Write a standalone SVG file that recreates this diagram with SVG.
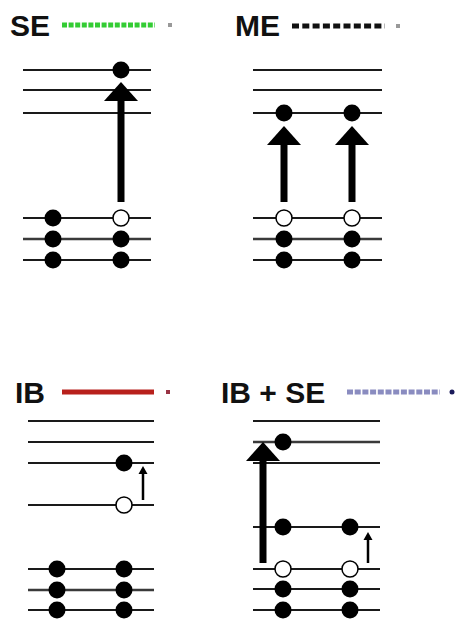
<svg xmlns="http://www.w3.org/2000/svg" width="460" height="623" viewBox="0 0 460 623">
<defs>
<style>
.t{font-family:"Liberation Sans",Arial,sans-serif;font-weight:bold;font-size:30px;fill:#111}
.lv{stroke:#1a1a1a;stroke-width:2;fill:none}
.lg{stroke:#3a3a3a;stroke-width:2.3;fill:none}
.f{fill:#000}
.o{fill:#fff;stroke:#000;stroke-width:1.5}
.big{stroke:#000;stroke-width:7;fill:none}
.sm{stroke:#000;stroke-width:2.5;fill:none}
.ah{fill:#000}
</style>
</defs>
<rect width="460" height="623" fill="#fff"/>

<g id="SE">
<text class="t" x="10" y="36">SE</text>
<line x1="62" y1="25" x2="155" y2="25" stroke="#3c3" stroke-width="5" stroke-dasharray="5 1.6"/>
<rect x="168" y="23" width="4" height="4" fill="#999"/>
<line class="lv" x1="23" y1="70" x2="151" y2="70"/>
<line class="lv" x1="23" y1="90" x2="151" y2="90"/>
<line class="lv" x1="23" y1="113" x2="151" y2="113"/>
<line class="lv" x1="23" y1="218" x2="151" y2="218"/>
<line class="lg" x1="23" y1="239" x2="151" y2="239"/>
<line class="lv" x1="23" y1="260" x2="151" y2="260"/>
<circle class="f" cx="121" cy="70" r="8.5"/>
<circle class="o" cx="121" cy="218" r="8"/>
<circle class="f" cx="53" cy="218" r="8.5"/>
<circle class="f" cx="53" cy="239" r="8.5"/>
<circle class="f" cx="53" cy="260" r="8.5"/>
<circle class="f" cx="121" cy="239" r="8.5"/>
<circle class="f" cx="121" cy="260" r="8.5"/>
</g>

<g id="ME">
<text class="t" x="235" y="36">ME</text>
<line x1="292" y1="26" x2="385" y2="26" stroke="#111" stroke-width="5" stroke-dasharray="7 3.3"/>
<rect x="396" y="24" width="4" height="4" fill="#999"/>
<line class="lv" x1="253" y1="70" x2="382" y2="70"/>
<line class="lv" x1="253" y1="90" x2="382" y2="90"/>
<line class="lv" x1="253" y1="113" x2="382" y2="113"/>
<line class="lv" x1="253" y1="218" x2="382" y2="218"/>
<line class="lg" x1="253" y1="239" x2="382" y2="239"/>
<line class="lv" x1="253" y1="260" x2="382" y2="260"/>
<circle class="f" cx="284" cy="113" r="8.5"/>
<circle class="f" cx="352" cy="113" r="8.5"/>
<circle class="o" cx="284" cy="218" r="8"/>
<circle class="o" cx="352" cy="218" r="8"/>
<circle class="f" cx="284" cy="239" r="8.5"/>
<circle class="f" cx="352" cy="239" r="8.5"/>
<circle class="f" cx="284" cy="260" r="8.5"/>
<circle class="f" cx="352" cy="260" r="8.5"/>
</g>

<g id="IB">
<text class="t" x="15" y="403">IB</text>
<line x1="62" y1="392" x2="154" y2="392" stroke="#b8201c" stroke-width="5"/>
<rect x="166" y="390" width="4" height="4" fill="#934"/>
<line class="lv" x1="28" y1="421" x2="154" y2="421"/>
<line class="lv" x1="28" y1="442" x2="154" y2="442"/>
<line class="lv" x1="28" y1="463" x2="154" y2="463"/>
<line class="lv" x1="28" y1="505" x2="154" y2="505"/>
<line class="lv" x1="28" y1="569" x2="154" y2="569"/>
<line class="lg" x1="28" y1="590" x2="154" y2="590"/>
<line class="lv" x1="28" y1="610" x2="154" y2="610"/>
<circle class="f" cx="124" cy="463" r="8.5"/>
<circle class="o" cx="124" cy="505" r="8"/>
<circle class="f" cx="57" cy="569" r="8.5"/>
<circle class="f" cx="57" cy="590" r="8.5"/>
<circle class="f" cx="57" cy="610" r="8.5"/>
<circle class="f" cx="124" cy="569" r="8.5"/>
<circle class="f" cx="124" cy="590" r="8.5"/>
<circle class="f" cx="124" cy="610" r="8.5"/>
</g>

<g id="IBSE">
<text class="t" x="221" y="403">IB + SE</text>
<line x1="347" y1="392" x2="440" y2="392" stroke="#8a8cc0" stroke-width="5" stroke-dasharray="6 1.7"/>
<circle cx="452" cy="392" r="2.5" fill="#1a1a5a"/>
<line class="lv" x1="253" y1="421" x2="380" y2="421"/>
<line class="lg" x1="253" y1="442" x2="380" y2="442"/>
<line class="lv" x1="253" y1="463" x2="380" y2="463"/>
<line class="lv" x1="253" y1="527" x2="380" y2="527"/>
<line class="lv" x1="253" y1="569" x2="380" y2="569"/>
<line class="lv" x1="253" y1="589" x2="380" y2="589"/>
<line class="lv" x1="253" y1="610" x2="380" y2="610"/>
<circle class="f" cx="283" cy="442" r="8.5"/>
<circle class="f" cx="283" cy="527" r="8.5"/>
<circle class="f" cx="350" cy="527" r="8.5"/>
<circle class="o" cx="283" cy="569" r="8"/>
<circle class="o" cx="350" cy="569" r="8"/>
<circle class="f" cx="283" cy="589" r="8.5"/>
<circle class="f" cx="350" cy="589" r="8.5"/>
<circle class="f" cx="283" cy="610" r="8.5"/>
<circle class="f" cx="350" cy="610" r="8.5"/>
</g>

<g id="connectors">
<line class="big" x1="121" y1="202" x2="121" y2="96"/>
<polygon class="ah" points="121,82 138,101 104,101"/>
<line class="big" x1="284" y1="202" x2="284" y2="140"/>
<polygon class="ah" points="284,126 301,145 267,145"/>
<line class="big" x1="352" y1="202" x2="352" y2="140"/>
<polygon class="ah" points="352,126 369,145 335,145"/>
<line class="sm" x1="143" y1="500" x2="143" y2="472"/>
<polygon class="ah" points="143,466 147.5,474 138.5,474"/>
<line class="big" x1="263" y1="563" x2="263" y2="456"/>
<polygon class="ah" points="263,442 280,461 246,461"/>
<line class="sm" x1="368" y1="563" x2="368" y2="538"/>
<polygon class="ah" points="368,532 372.5,540 363.5,540"/>
</g>
</svg>
